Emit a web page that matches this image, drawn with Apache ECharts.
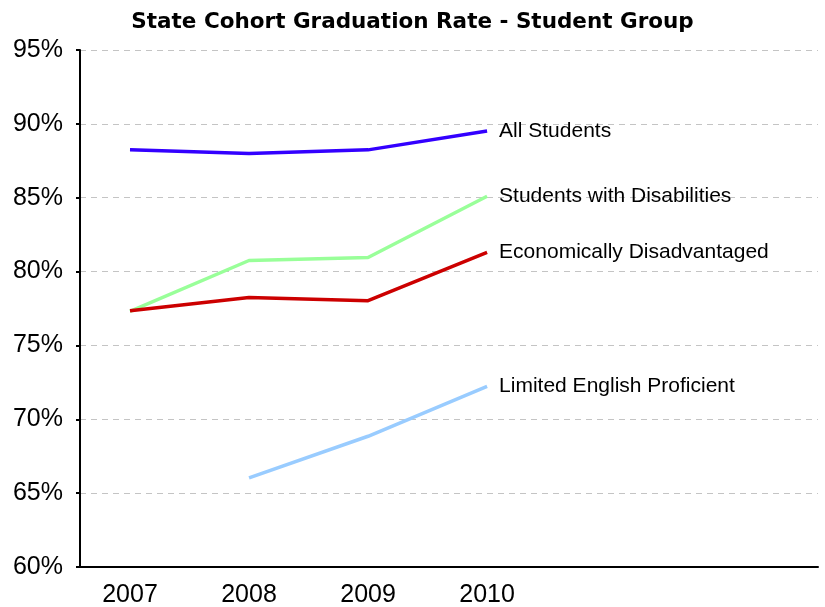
<!DOCTYPE html>
<html>
<head>
<meta charset="utf-8">
<script src="https://cdn.jsdelivr.net/npm/echarts@6/dist/echarts.min.js"></script>
<style>
  html, body { margin: 0; padding: 0; background: #fff; }
  #main { width: 825px; height: 607px; }
</style>
</head>
<body>
<div id="main"></div>
<script>
// data
var years = [2007, 2008, 2009, 2010];
var allStudents = [88.24, 88.0, 88.24, 89.52];
var disabilities = [77.3, 80.75, 80.95, 85.1];
var econDisadv = [77.35, 78.24, 78.03, 81.3];
var limitedEnglish = [null, 66.03, 68.85, 72.23];

var seriesNames = ['All Students', 'Students with Disabilities', 'Economically Disadvantaged', 'Limited English Proficient'];
var seriesColors = ['#3300ff', '#99ff99', '#cc0000', '#99ccff'];
var seriesData = [allStudents, disabilities, econDisadv, limitedEnglish];

function pairs(vals) {
    var out = [];
    for (var i = 0; i < years.length; i++) {
        if (vals[i] != null) out.push([years[i], vals[i]]);
    }
    return out;
}

var chart = echarts.init(document.getElementById('main'));

var series = [];
for (var i = 0; i < seriesNames.length; i++) {
    series.push({
        name: seriesNames[i],
        type: 'line',
        data: pairs(seriesData[i]),
        showSymbol: false,
        symbol: 'none',
        lineStyle: { color: seriesColors[i], width: 3.5 },
        itemStyle: { color: seriesColors[i] },
        endLabel: {
            show: true,
            formatter: '{a}',
            color: '#000',
            fontFamily: 'Liberation Sans, Arial, sans-serif',
            fontSize: 21,
            distance: 12
        },
        z: 3
    });
}

var option = {
    animation: false,
    title: {
        text: 'State Cohort Graduation Rate - Student Group',
        left: 'center',
        top: 6,
        textStyle: {
            fontFamily: 'DejaVu Sans, sans-serif',
            fontWeight: 'bold',
            fontSize: 21.5,
            color: '#000'
        }
    },
    grid: {
        left: 80,
        right: 7,
        top: 50,
        bottom: 40,
        containLabel: false,
        outerBoundsMode: 'none'
    },
    xAxis: {
        type: 'value',
        min: 2006.58,
        max: 2012.78,
        splitLine: { show: false },
        axisLine: { show: true, lineStyle: { color: '#000', width: 2 } },
        axisTick: { show: false },
        axisLabel: {
            customValues: years,
            color: '#000',
            fontFamily: 'Liberation Sans, Arial, sans-serif',
            fontSize: 25,
            margin: 16,
            formatter: function (v) { return String(v); }
        }
    },
    yAxis: {
        type: 'value',
        min: 60,
        max: 95,
        interval: 5,
        axisLine: { show: true, lineStyle: { color: '#000', width: 2 } },
        axisTick: { show: true, length: 4, lineStyle: { color: '#000', width: 2 } },
        axisLabel: {
            color: '#000',
            fontFamily: 'Liberation Sans, Arial, sans-serif',
            fontSize: 25,
            margin: 17,
            formatter: '{value}%'
        },
        splitLine: {
            show: true,
            lineStyle: { color: '#c4c4c4', type: [6, 5], width: 1 }
        }
    },
    series: series
};

chart.setOption(option);
</script>
</body>
</html>
